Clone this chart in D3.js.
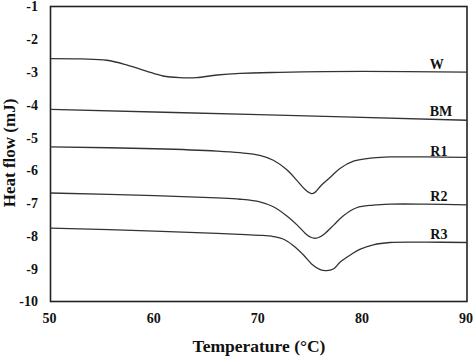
<!DOCTYPE html>
<html><head><meta charset="utf-8">
<script src="https://cdn.jsdelivr.net/npm/d3@7"></script>
<style>
html,body{margin:0;padding:0;background:#fff;}
svg text{font-family:"Liberation Serif","Times New Roman",serif;font-weight:bold;fill:#111;}
</style></head>
<body><svg id="c" width="473" height="356"></svg>
<script>
const xTicks = [50,60,70,80,90];
const yTicks = [-1,-2,-3,-4,-5,-6,-7,-8,-9,-10];
const seriesNames = ["W","BM","R1","R2","R3"];
const wT = [50,53,55.4,57.3,59.2,60.8,62.4,64,66,68.2,72,80,90];
const wV = [-2.59,-2.60,-2.64,-2.78,-2.97,-3.12,-3.17,-3.17,-3.09,-3.04,-3.01,-2.98,-3.00];
const bmT = [50,70,90];
const bmV = [-4.14,-4.30,-4.47];
const r1T = [50,60,66,68.2,70.1,71.4,72.7,73.7,74.4,74.8,75.1,75.4,75.9,76.9,77.8,79.1,81.0,82.6,86,90];
const r1V = [-5.28,-5.34,-5.41,-5.46,-5.54,-5.69,-5.98,-6.32,-6.57,-6.67,-6.71,-6.67,-6.49,-6.20,-5.94,-5.72,-5.62,-5.59,-5.59,-5.60];
const r2T = [50,60,66,68.2,70.1,71.4,72.7,73.7,74.5,75.0,75.4,75.8,76.3,77.2,78.1,79.4,81.0,82.6,86,90];
const r2V = [-6.69,-6.77,-6.84,-6.88,-6.96,-7.11,-7.39,-7.67,-7.93,-8.04,-8.07,-8.04,-7.94,-7.67,-7.39,-7.14,-7.06,-7.03,-7.03,-7.05];
const r3T = [50,60,66,68.2,70.1,71.4,72.4,73.3,74.3,75.1,75.9,76.5,77.2,77.8,78.8,79.7,81.0,82.6,86,90];
const r3V = [-7.76,-7.85,-7.92,-7.95,-7.98,-8.02,-8.10,-8.29,-8.58,-8.86,-9.03,-9.06,-9.00,-8.80,-8.58,-8.41,-8.27,-8.20,-8.19,-8.20];

const svg = d3.select("#c");
const m = {l:50.5, r:467, t:6.5, b:301.5};
const x = d3.scaleLinear().domain([50,90]).range([m.l,m.r]);
const y = d3.scaleLinear().domain([-10,-1]).range([m.b,m.t]);

svg.append("rect").attr("x",m.l).attr("y",m.t).attr("width",m.r-m.l).attr("height",m.b-m.t)
  .attr("fill","none").attr("stroke","#222").attr("stroke-width",1.6);

const xa = svg.append("g").attr("transform",`translate(0,${m.b})`)
  .call(d3.axisBottom(x).tickValues(xTicks).tickSize(0).tickPadding(12).tickFormat(d3.format("d")));
xa.select(".domain").remove();
xa.selectAll("text").attr("font-size","14px").attr("dx","-1.5px");

const ya = svg.append("g").attr("transform",`translate(${m.l},0)`)
  .call(d3.axisLeft(y).tickValues(yTicks).tickSize(0).tickPadding(12.5).tickFormat(d=>String(d)));
ya.select(".domain").remove();
ya.selectAll("text").attr("font-size","14px");

svg.append("text").attr("x",259).attr("y",352).attr("text-anchor","middle").attr("font-size","17.5px").text("Temperature (°C)");
svg.append("text").attr("transform","translate(15,153) rotate(-90)").attr("text-anchor","middle").attr("font-size","17px").text("Heat flow (mJ)");

const line = d3.line().x(d=>x(d[0])).y(d=>y(d[1])).curve(d3.curveCatmullRom.alpha(0.5));
const series = [[wT,wV],[bmT,bmV],[r1T,r1V],[r2T,r2V],[r3T,r3V]];
series.forEach(([t,v])=>{
  svg.append("path").datum(t.map((d,i)=>[d,v[i]])).attr("d",line)
    .attr("fill","none").attr("stroke","#333").attr("stroke-width",1.3);
});

const labelPos = [[87.1,-2.75],[87.5,-4.2],[87.3,-5.4],[87.3,-6.77],[87.3,-7.95]];
seriesNames.forEach((n,i)=>{
  svg.append("text").attr("x",x(labelPos[i][0])).attr("y",y(labelPos[i][1])).attr("dy","0.35em")
    .attr("text-anchor","middle").attr("font-size","14px").text(n);
});
</script></body></html>
